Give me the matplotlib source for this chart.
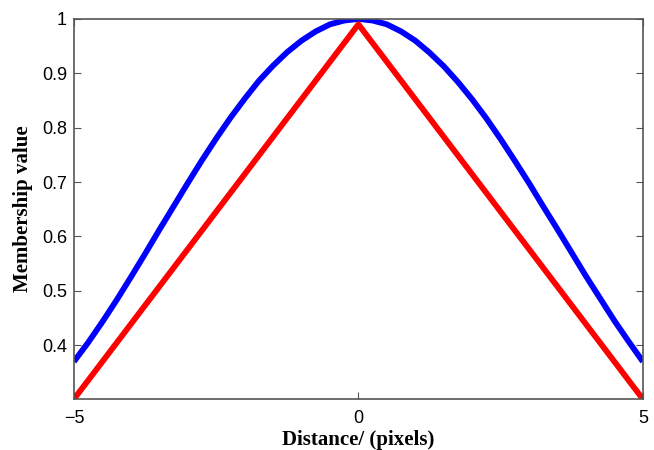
import matplotlib
matplotlib.use("Agg")
import matplotlib.pyplot as plt

# membership curves
dist = [-5, -4.75, -4.5, -4.25, -4, -3.75, -3.5, -3.25, -3, -2.75, -2.5,
        -2.25, -2, -1.75, -1.5, -1.25, -1, -0.75, -0.5, -0.25, 0,
        0.25, 0.5, 0.75, 1, 1.25, 1.5, 1.75, 2, 2.25, 2.5,
        2.75, 3, 3.25, 3.5, 3.75, 4, 4.25, 4.5, 4.75, 5]
gauss_vals = [0.370, 0.405, 0.443, 0.483, 0.525, 0.568, 0.612, 0.655, 0.698, 0.740, 0.780,
              0.818, 0.853, 0.886, 0.914, 0.939, 0.960, 0.977, 0.990, 0.997, 1.000,
              0.997, 0.990, 0.977, 0.960, 0.938, 0.913, 0.884, 0.852, 0.817, 0.779,
              0.739, 0.698, 0.655, 0.613, 0.570, 0.527, 0.486, 0.445, 0.407, 0.370]
tri_x = [-5, 0, 5]
tri_vals = [0.301, 0.990, 0.301]

fig = plt.figure(figsize=(6.54, 4.5), dpi=100)
ax = fig.add_axes([0.113, 0.113, 0.870, 0.845])

ax.plot(dist, gauss_vals, color='#0000ff', linewidth=4.2, solid_capstyle='butt')
ax.plot(tri_x, tri_vals, color='#ff0000', linewidth=4.2, solid_capstyle='butt')

ax.set_xlim(-5, 5)
ax.set_ylim(0.301, 1)
ax.set_xticks([-5, 0, 5])
ax.set_xticklabels(['\u22125', '0', '5'])
ax.set_yticks([0.4, 0.5, 0.6, 0.7, 0.8, 0.9, 1])
ax.set_yticklabels(['0.4', '0.5', '0.6', '0.7', '0.8', '0.9', '1'])

for side in ax.spines.values():
    side.set_color('#555555')
    side.set_linewidth(1.2)
ax.tick_params(direction='in', top=True, right=True, length=5, width=0.8,
               color='#555555', labelsize=13, pad=5)
ax.tick_params(axis='x', pad=8)
for lab in ax.get_xticklabels() + ax.get_yticklabels():
    lab.set_family('Liberation Sans')

ax.set_xlabel('Distance/ (pixels)', family='Liberation Serif', fontweight='bold',
              fontsize=15, labelpad=2)
ax.set_ylabel('Membership value', family='Liberation Serif', fontweight='bold',
              fontsize=15, labelpad=6)

plt.savefig('out.png', dpi=100)
